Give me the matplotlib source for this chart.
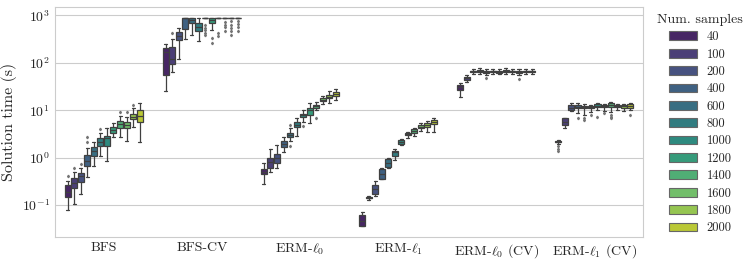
import numpy as np
import matplotlib
matplotlib.use('Agg')
import matplotlib.pyplot as plt
from matplotlib.patches import Patch
import seaborn as sns

sns.set_style('whitegrid')
plt.rcParams['font.family'] = 'serif'
plt.rcParams['font.serif'] = ['cmr10']
plt.rcParams['mathtext.fontset'] = 'cm'
plt.rcParams['axes.formatter.use_mathtext'] = True

categories = ['BFS', 'BFS-CV', r'ERM-$\ell_0$', r'ERM-$\ell_1$',
              r'ERM-$\ell_0$ (CV)', r'ERM-$\ell_1$ (CV)']
samples = [40, 100, 200, 400, 600, 800, 1000, 1200, 1400, 1600, 1800, 2000]

# box stats per sample size: (whisker low, q1, median, q3, whisker high)
bfs = [(0.077, 0.145, 0.193, 0.259, 0.325), (0.105, 0.234, 0.29, 0.37, 0.495),
       (0.173, 0.314, 0.41, 0.485, 0.62), (0.40, 0.67, 0.87, 1.15, 1.58),
       (0.68, 1.11, 1.41, 1.71, 2.18), (1.09, 1.77, 2.18, 2.57, 3.37),
       (0.87, 1.77, 2.57, 2.92, 4.18), (2.78, 3.37, 3.9, 4.39, 5.3),
       (2.78, 4.3, 5.15, 6.04, 7.7), (2.26, 4.3, 4.91, 5.59, 7.23),
       (4.52, 6.47, 7.33, 8.36, 11.3), (2.18, 5.75, 7.7, 10.3, 14.0)]
bfs_fl = [[0.41], [0.61], [0.73], [2.1, 2.7], [], [4.0], [], [], [9.35], [9.35], [12.9], []]

bfs_cv = [(25.9, 56, 166, 205, 252), (63, 94, 122, 215, 321),
          (123, 310, 376, 445, 541), (317, 507, 880, 900, 900),
          (385, 680, 820, 900, 900), (284, 474, 575, 698, 900),
          (880, 885, 900, 900, 900), (502, 705, 800, 900, 900),
          (880, 885, 900, 900, 900), (880, 885, 900, 900, 900),
          (880, 885, 900, 900, 900), (880, 885, 900, 900, 900)]
bfs_cv_fl = [[], [418], [], [], [], [], [625, 553, 491, 435, 385], [333, 267],
             [420, 365], [740, 640, 560, 480], [760, 640, 540, 460, 385], [760, 650, 560, 470]]

erm0 = [(0.277, 0.45, 0.51, 0.58, 0.766), (0.51, 0.60, 0.83, 1.0, 1.51),
        (0.60, 0.766, 0.975, 1.22, 1.86), (1.31, 1.66, 1.92, 2.26, 2.78),
        (2.26, 2.78, 3.06, 3.37, 4.18), (2.88, 4.39, 4.91, 5.59, 6.79),
        (5.75, 7.13, 7.85, 8.48, 10.1), (5.32, 7.96, 10.1, 11.0, 14.0),
        (10.1, 11.35, 12.1, 12.9, 15.2), (13.4, 15.7, 16.7, 17.9, 20.3),
        (14.0, 17.9, 19.3, 21.0, 25.5), (16.8, 20.3, 22.0, 23.9, 28.1)]
erm0_fl = [[], [], [], [], [1.77, 5.0], [], [4.68], [], [6.8], [], [], []]

erm1 = [(0.0354, 0.0354, 0.046, 0.0625, 0.07), (0.131, 0.138, 0.144, 0.150, 0.159),
        (0.157, 0.17, 0.217, 0.267, 0.325), (0.35, 0.358, 0.456, 0.573, 0.60),
        (0.61, 0.63, 0.78, 0.944, 0.99), (0.90, 1.11, 1.31, 1.41, 1.51),
        (1.89, 1.95, 2.15, 2.37, 2.45), (2.57, 3.02, 3.17, 3.33, 3.54),
        (2.88, 3.37, 3.67, 3.98, 4.3), (3.72, 4.18, 4.52, 4.91, 5.32),
        (3.54, 4.45, 4.98, 5.48, 6.04), (3.54, 5.15, 5.67, 6.25, 6.79)]
erm1_fl = [[] for _ in samples]

erm0_cv = [(19.3, 26.8, 30.4, 34.1, 37), (39, 43.4, 47.2, 51, 55.4),
           (57, 63, 66, 69, 76), (58, 64, 67, 70, 77), (56, 62, 65, 68, 74),
           (58, 63, 66, 69, 76), (57, 62, 65, 68, 73), (59, 64, 67, 70, 77),
           (58, 63, 66, 69, 75), (55, 62, 65, 68, 74), (57, 63, 66, 69, 75),
           (58, 63, 66, 69, 74)]
erm0_cv_fl = [[], [], [], [], [48.5], [], [], [], [], [45.6], [], []]

erm1_cv = [(1.98, 2.10, 2.18, 2.25, 2.37), (4.3, 4.91, 5.75, 6.79, 6.98),
           (9.8, 10.1, 11.35, 12.9, 14.45), (8.65, 11.0, 11.9, 12.9, 14.0),
           (7.96, 11.0, 11.7, 12.5, 13.4), (9.35, 11.0, 11.6, 12.3, 13.2),
           (10.1, 11.6, 12.6, 13.6, 14.45), (9.6, 11.5, 12.2, 13.0, 13.6),
           (9.35, 11.6, 12.9, 14.0, 15.2), (10.1, 11.6, 12.3, 13.0, 13.6),
           (9.8, 11.4, 12.2, 13.0, 13.6), (10.1, 11.4, 12.3, 13.3, 14.0)]
erm1_cv_fl = [[1.75, 1.53, 1.37], [], [], [6.8], [6.8, 6.3], [7.96], [7.13], [8.65],
              [7.96, 7.33, 6.8], [], [], [7.96]]

all_stats = [bfs, bfs_cv, erm0, erm1, erm0_cv, erm1_cv]
all_fliers = [bfs_fl, bfs_cv_fl, erm0_fl, erm1_fl, erm0_cv_fl, erm1_cv_fl]

colors = [sns.desaturate(c, 0.75) for c in sns.color_palette('viridis', len(samples))]
gray = '0.25'

fig = plt.figure(figsize=(7.48, 2.63), dpi=100)
ax = fig.add_axes([0.073, 0.098, 0.787, 0.875])

n = len(samples)
step = 0.8 / n
w = step * 0.92
for j in range(n):
    stats = []
    for k in range(len(categories)):
        lo, q1, med, q3, hi = all_stats[k][j]
        stats.append(dict(whislo=lo, q1=q1, med=med, q3=q3, whishi=hi,
                          fliers=all_fliers[k][j]))
    pos = np.arange(len(categories)) - 0.4 + step * (j + 0.5)
    ax.bxp(stats, positions=pos, widths=w, capwidths=w * 0.5, patch_artist=True,
           showfliers=True, manage_ticks=False,
           boxprops=dict(facecolor=colors[j], edgecolor=gray, linewidth=0.9),
           medianprops=dict(color=gray, linewidth=0.9),
           whiskerprops=dict(color=gray, linewidth=0.9),
           capprops=dict(color=gray, linewidth=0.9),
           flierprops=dict(marker='d', markersize=1.3, markerfacecolor='0.45',
                           markeredgecolor='0.45', linestyle='none'))

ax.set_yscale('log')
ax.set_ylim(0.021, 1500)
ax.set_xlim(-0.5, len(categories) - 0.5)
ax.set_xticks(np.arange(len(categories)))
ax.set_xticklabels(categories, fontsize=10)
ax.tick_params(axis='y', labelsize=10, which='both', length=0)
ax.tick_params(axis='x', length=0)
ax.minorticks_off()
ax.xaxis.grid(False)
ax.set_ylabel('Solution time (s)', fontsize=11.5, labelpad=3)
for s in ax.spines.values():
    s.set_color('#cccccc')

handles = [Patch(facecolor=colors[j], edgecolor='0.4', linewidth=0.8) for j in range(n)]
ax.legend(handles, [str(s) for s in samples], title='Num. samples',
          loc='upper left', bbox_to_anchor=(1.005, 1.02), frameon=False,
          fontsize=9, title_fontsize=10, handlelength=2.2, handleheight=0.7,
          labelspacing=0.42)

fig.savefig('out.png', dpi=100)
